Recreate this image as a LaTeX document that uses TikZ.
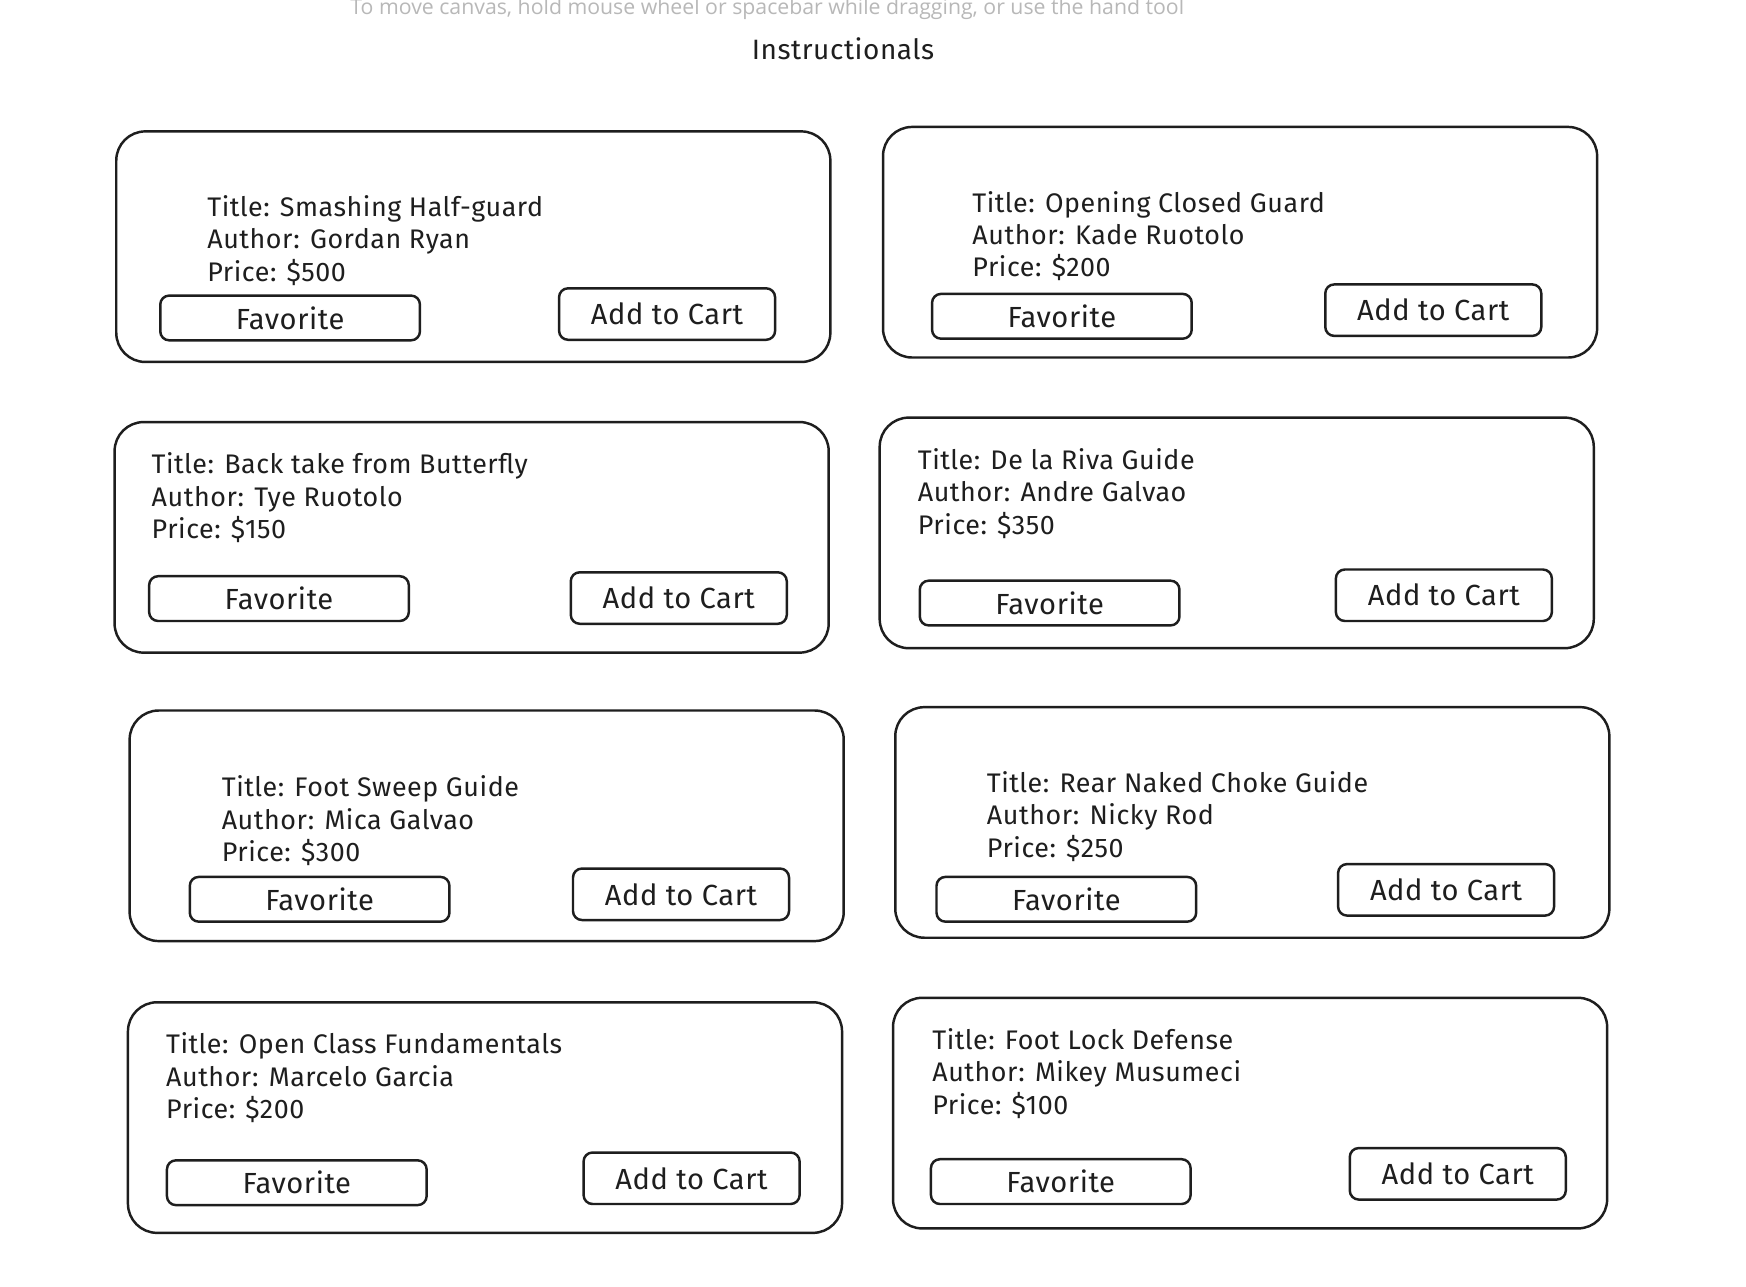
\documentclass[tikz,border=0pt]{standalone}
\usepackage{fontspec}
\setmainfont{Fira Sans}
\newfontfamily\handfont[LetterSpace=2]{Fira Sans}
\newfontfamily\hintfont{Open Sans}
\usepackage{xcolor}
\usetikzlibrary{positioning}
\definecolor{inkc}{HTML}{1E1E1E}
\definecolor{hintc}{HTML}{B8B8B8}
\tikzset{
    card/.style = {rectangle, draw=inkc, line width=2.2pt, rounded corners=26pt, minimum width=638pt, minimum height=206pt},
    favbtn/.style = {rectangle, draw=inkc, line width=2.2pt, rounded corners=8pt, minimum width=232pt, minimum height=40pt, inner sep=0pt, text=inkc, font=\handfont\fontsize{26}{30}\selectfont},
    cartbtn/.style = {rectangle, draw=inkc, line width=2.2pt, rounded corners=8pt, minimum width=193pt, minimum height=46pt, inner sep=0pt, text=inkc, font=\handfont\fontsize{26}{30}\selectfont},
    info/.style = {anchor=west, align=left, inner sep=0pt, text=inkc, font=\handfont\fontsize{24}{29}\selectfont},
}
\begin{document}
\begin{tikzpicture}[x=0.995pt, y=-0.995pt]
\useasboundingbox[fill=white] (0,0) rectangle (1567.8,1154.8);
\node[anchor=base, text=hintc, font=\hintfont\fontsize{19}{21}\selectfont] (hint) at (689,13) {To move canvas, hold mouse wheel or spacebar while dragging, or use the hand tool};
\node[text=inkc, font=\handfont\fontsize{25}{29}\selectfont] (heading) at (757,44) {Instructionals};
%
\node[card] (card1) at (425,221.5) {};
\node[info] (info1) at (186,216) {Title: Smashing Half-guard\\Author: Gordan Ryan\\Price: \$500};
\node[favbtn] (fav1) at (260.5,285.5) {Favorite};
\node[cartbtn] (cart1) at (599,282) {Add to Cart};
%
\node[card] (card2) at (1113.5,217.5) {};
\node[info] (info2) at (873,212) {Title: Opening Closed Guard\\Author: Kade Ruotolo\\Price: \$200};
\node[favbtn] (fav2) at (953.5,284) {Favorite};
\node[cartbtn] (cart2) at (1287,278.5) {Add to Cart};
%
\node[card] (card3) at (423.5,482.5) {};
\node[info] (info3) at (136,447) {Title: Back take from Butterfly\\Author: Tye Ruotolo\\Price: \$150};
\node[favbtn] (fav3) at (250.5,537.5) {Favorite};
\node[cartbtn] (cart3) at (609.5,537) {Add to Cart};
%
\node[card] (card4) at (1110.5,478.5) {};
\node[info] (info4) at (824,443) {Title: De la Riva Guide\\Author: Andre Galvao\\Price: \$350};
\node[favbtn] (fav4) at (942.5,541.5) {Favorite};
\node[cartbtn] (cart4) at (1296.5,534.5) {Add to Cart};
%
\node[card] (card5) at (437,741.5) {};
\node[info] (info5) at (199,737) {Title: Foot Sweep Guide\\Author: Mica Galvao\\Price: \$300};
\node[favbtn] (fav5) at (287,807.5) {Favorite};
\node[cartbtn] (cart5) at (611.5,803) {Add to Cart};
%
\node[card] (card6) at (1124.5,738.5) {};
\node[info] (info6) at (886,733) {Title: Rear Naked Choke Guide\\Author: Nicky Rod\\Price: \$250};
\node[favbtn] (fav6) at (957.5,807.5) {Favorite};
\node[cartbtn] (cart6) at (1298.5,799) {Add to Cart};
%
\node[card] (card7) at (435.5,1003.5) {};
\node[info] (info7) at (149,968) {Title: Open Class Fundamentals\\Author: Marcelo Garcia\\Price: \$200};
\node[favbtn] (fav7) at (266.5,1062) {Favorite};
\node[cartbtn] (cart7) at (621,1058) {Add to Cart};
%
\node[card] (card8) at (1122.5,999.5) {};
\node[info] (info8) at (837,964) {Title: Foot Lock Defense\\Author: Mikey Musumeci\\Price: \$100};
\node[favbtn] (fav8) at (952.5,1061) {Favorite};
\node[cartbtn] (cart8) at (1309,1054) {Add to Cart};
\end{tikzpicture}
\end{document}
